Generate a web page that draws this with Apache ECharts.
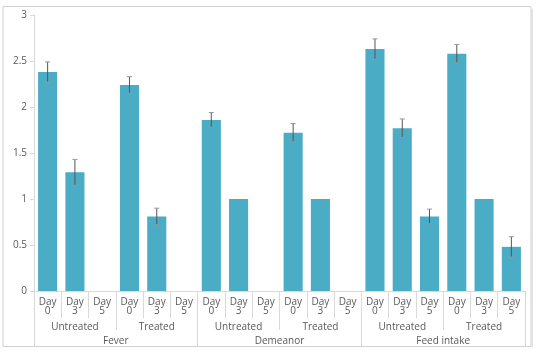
<!DOCTYPE html>
<html>
<head>
<meta charset="utf-8">
<script src="https://cdn.jsdelivr.net/npm/echarts@6/dist/echarts.min.js"></script>
<style>
  html, body { margin: 0; padding: 0; background: #fff; }
  #chart { width: 545px; height: 353px; }
</style>
</head>
<body>
<div id="chart"></div>
<script>
const days = ['Day\n0', 'Day\n3', 'Day\n5', 'Day\n0', 'Day\n3', 'Day\n5',
              'Day\n0', 'Day\n3', 'Day\n5', 'Day\n0', 'Day\n3', 'Day\n5',
              'Day\n0', 'Day\n3', 'Day\n5', 'Day\n0', 'Day\n3', 'Day\n5'];
const treatments = ['Untreated', 'Treated', 'Untreated', 'Treated', 'Untreated', 'Treated'];
const signs = ['Fever', 'Demeanor', 'Feed intake'];

// mean score per category
const means = [2.38, 1.29, 0, 2.24, 0.81, 0,
               1.86, 1.0, 0, 1.72, 1.0, 0,
               2.63, 1.77, 0.81, 2.58, 1.0, 0.48];
// standard error (0 = no bar drawn)
const errors = [0.11, 0.14, 0, 0.09, 0.09, 0,
                0.08, 0, 0, 0.10, 0, 0,
                0.11, 0.10, 0.08, 0.10, 0, 0.11];

const errData = means.map((m, i) => [i, m - errors[i], m + errors[i]]).filter((d, i) => errors[i] > 0);

const chart = echarts.init(document.getElementById('chart'));
const font = '"Open Sans", sans-serif';
const axisGrey = '#d9d9d9';
const textGrey = '#595959';

chart.setOption({
  animation: false,
  grid: { left: 34, right: 20, top: 15, bottom: 62 },
  graphic: [
    { type: 'rect', shape: { x: 3, y: 6.5, width: 528, height: 340 },
      style: { fill: 'none', stroke: '#cfcfcf', lineWidth: 1 }, silent: true },
    { type: 'rect', shape: { x: 531, y: 9, width: 2, height: 338 },
      style: { fill: '#e3e3e3' }, silent: true }
  ],
  xAxis: [
    {
      type: 'category', data: days, position: 'bottom',
      axisLine: { lineStyle: { color: axisGrey } },
      axisTick: { show: true, interval: 0, length: 27, lineStyle: { color: axisGrey } },
      axisLabel: { interval: 0, fontSize: 10, lineHeight: 9, margin: 7, color: textGrey, fontFamily: font }
    },
    {
      type: 'category', data: treatments, position: 'bottom',
      axisLine: { show: false },
      axisTick: { show: true, interval: 0, length: 39, lineStyle: { color: axisGrey } },
      axisLabel: { interval: 0, fontSize: 10, margin: 31, color: textGrey, fontFamily: font }
    },
    {
      type: 'category', data: signs, position: 'bottom',
      axisLine: { show: false },
      axisTick: { show: true, interval: 0, length: 55, lineStyle: { color: axisGrey } },
      axisLabel: { interval: 0, fontSize: 10, margin: 45, color: textGrey, fontFamily: font }
    }
  ],
  yAxis: {
    type: 'value', min: 0, max: 3, interval: 0.5,
    splitLine: { show: false },
    axisLine: { show: true, lineStyle: { color: axisGrey } },
    axisTick: { show: true, length: 4, lineStyle: { color: axisGrey } },
    axisLabel: { fontSize: 10, margin: 7, color: textGrey, fontFamily: font }
  },
  series: [
    {
      type: 'bar', data: means, xAxisIndex: 0, barCategoryGap: '30%',
      itemStyle: { color: '#4BACC6' }
    },
    {
      type: 'custom', xAxisIndex: 0, data: errData, z: 10,
      renderItem: function (params, api) {
        const x = api.coord([api.value(0), 0])[0];
        const lo = api.coord([api.value(0), api.value(1)])[1];
        const hi = api.coord([api.value(0), api.value(2)])[1];
        const w = 2.5;
        return {
          type: 'group',
          children: [
            { type: 'line', shape: { x1: x, y1: hi, x2: x, y2: lo }, style: { stroke: '#555', lineWidth: 1 } },
            { type: 'line', shape: { x1: x - w, y1: hi, x2: x + w, y2: hi }, style: { stroke: '#999', lineWidth: 1 } },
            { type: 'line', shape: { x1: x - w, y1: lo, x2: x + w, y2: lo }, style: { stroke: '#999', lineWidth: 1 } }
          ]
        };
      }
    }
  ]
});
</script>
</body>
</html>
